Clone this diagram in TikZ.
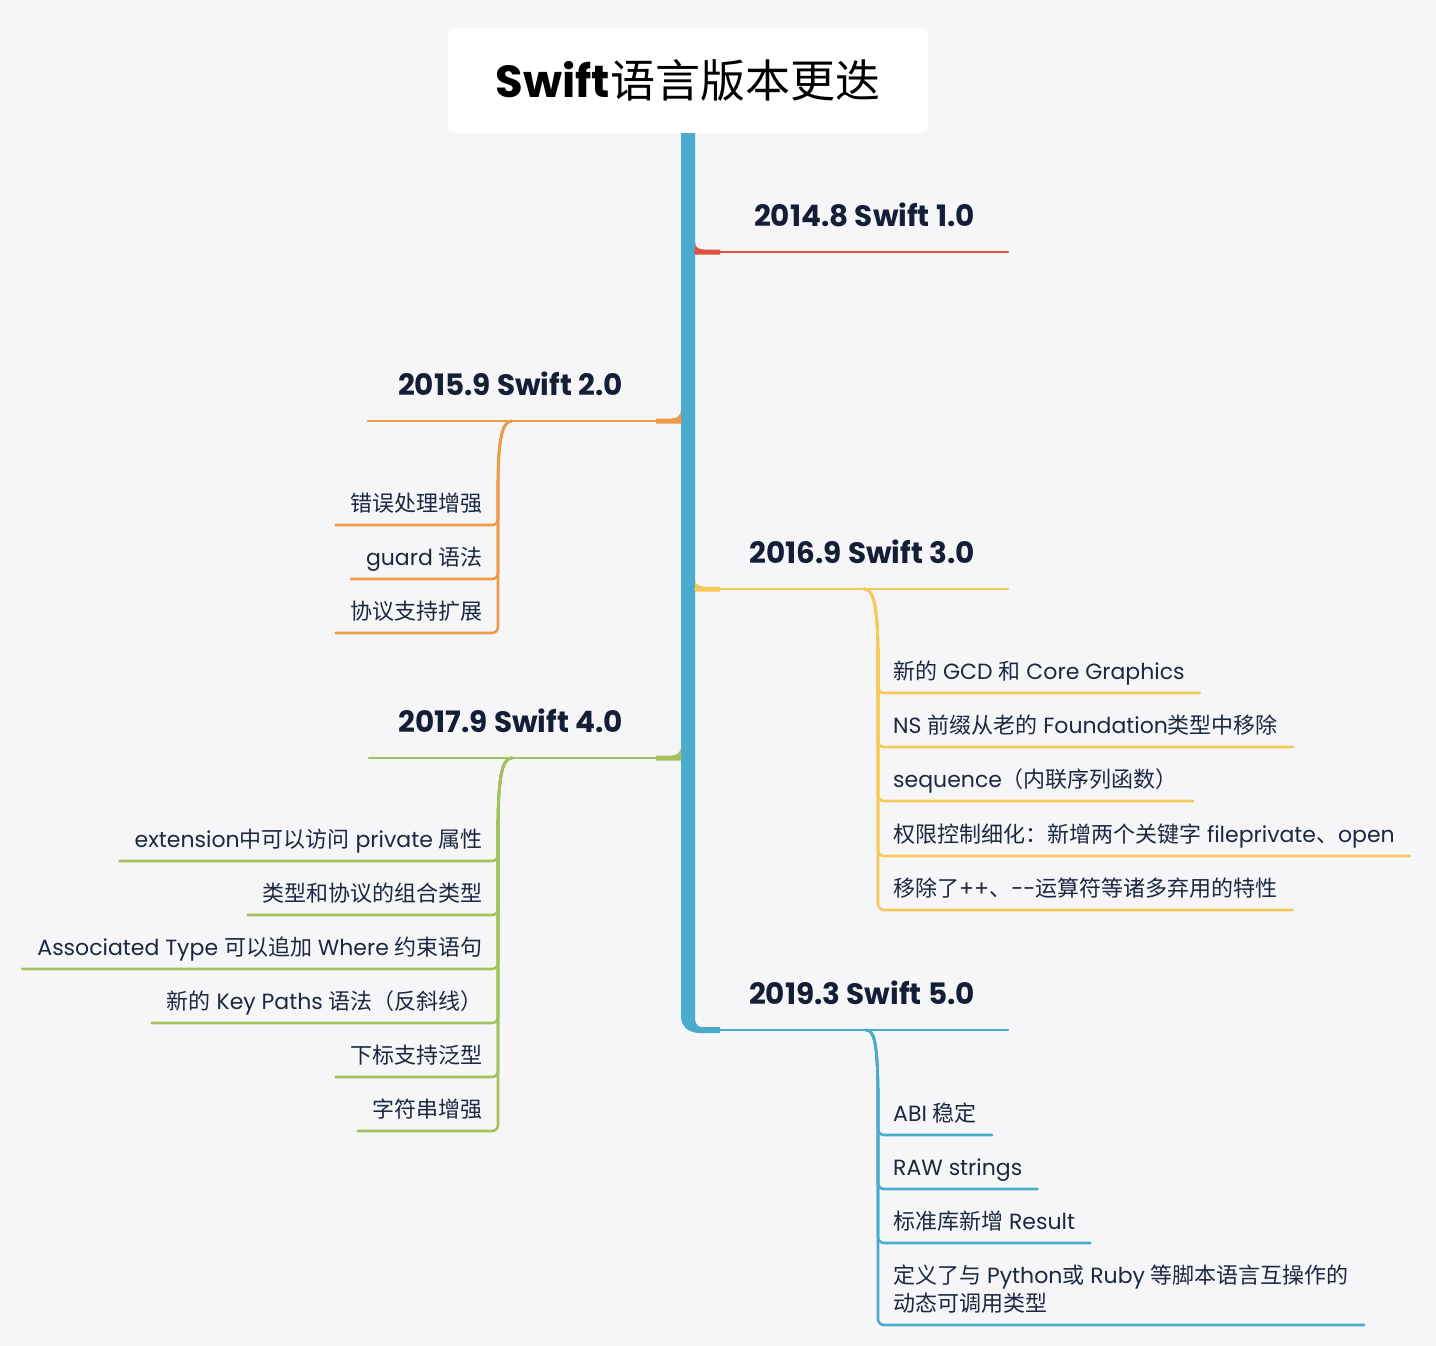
\documentclass[tikz,border=0pt]{standalone}
\usepackage{fontspec}
\setmainfont{Poppins}
\newfontfamily\zh{Noto Sans CJK SC}
\usepackage{xcolor}
\usepackage{tikz}
\definecolor{bg}{HTML}{F6F6F9}
\definecolor{ink}{HTML}{141E36}
\definecolor{ink2}{HTML}{1C2740}
\definecolor{trunk}{HTML}{4BAACF}
\definecolor{red}{HTML}{E15241}
\definecolor{orange}{HTML}{EE9A47}
\definecolor{yellow}{HTML}{F7C956}
\definecolor{green}{HTML}{A4C15C}
\tikzset{
  title/.style={fill=white, rounded corners=8pt, minimum width=480pt, minimum height=105pt,
    inner sep=0pt, text=black, font=\fontsize{45}{50}\selectfont\bfseries},
  ver/.style={text=ink, inner sep=0pt, font=\fontsize{29.5}{34}\selectfont\bfseries},
  kid/.style={text=ink2, inner xsep=15pt, inner ysep=13pt, text depth=0pt, align=left,
    font=\fontsize{22}{28}\selectfont},
  kidr/.style={kid, anchor=south west},
  kidl/.style={kid, anchor=south east},
  twig/.style={line width=2.6pt, line cap=round, line join=round, rounded corners=6pt}
}
\begin{document}
\begin{tikzpicture}[x=1pt,y=-1pt]
  \fill[bg] (0,0) rectangle (1436,1346);
  % root
  \node[title] (root) at (688,80.5) {Swift{\zh\mdseries 语言版本更迭}};
  \fill[trunk] (root.south) ++(-7,0) -- (681,1016) .. controls (681,1026) and (688,1033) .. (700,1033)
    -- (720,1033) -- (720,1027) -- (702,1027) .. controls (698,1027) and (695,1024) .. (695,1018)
    -- (695,133) -- cycle;
  \coordinate (e5) at (1008,1030);
  \draw[trunk, twig] (720,1030) -- (e5);
  % 2014.8
  \coordinate (j1) at (695,252);
  \coordinate (e1) at (1008,252);
  \node[ver, anchor=base east] (v1) at (975,226) {2014.8 Swift 1.0};
  \draw[red, twig] (j1) -- (e1);
  \fill[red] (695,242) .. controls (695,248) and (699,249.5) .. (705,249.5) -- (720,249.5)
    -- (720,254.5) -- (695,254.5) -- cycle;
  % 2015.9
  \coordinate (j2) at (681,421);
  \coordinate (e2) at (368,421);
  \node[ver, anchor=base east] (v2) at (623,395) {2015.9 Swift 2.0};
  \draw[orange, twig] (j2) -- (e2);
  \fill[orange] (681,409) .. controls (681,416) and (677,418.5) .. (671,418.5) -- (656,418.5)
    -- (656,423.5) -- (681,423.5) -- cycle;
  \coordinate (s2) at (512,421);
  \foreach \y/\t [count=\i] in {525/{{\zh 错误处理增强}}, 579/{guard {\zh 语法}}, 633/{{\zh 协议支持扩展}}}{
    \node[kidl] (o\i) at (498,\y) {\t};
    \draw[orange, twig] (s2) .. controls (504,421) and (499,432) .. (498,480) |- (o\i.south west);
  }
  % 2016.9
  \coordinate (j3) at (695,589);
  \coordinate (e3) at (1008,589);
  \node[ver, anchor=base east] (v3) at (975,563) {2016.9 Swift 3.0};
  \draw[yellow, twig] (j3) -- (e3);
  \fill[yellow] (695,579) .. controls (695,585) and (699,586.5) .. (705,586.5) -- (720,586.5)
    -- (720,591.5) -- (695,591.5) -- cycle;
  \coordinate (s3) at (864,589);
  \foreach \y/\t [count=\i] in {693/{{\zh 新的} GCD {\zh 和} Core Graphics},
      747/{NS {\zh 前缀从老的} Foundation{\zh 类型中移除}},
      801/{sequence{\zh （内联序列函数）}},
      856/{{\zh 权限控制细化：新增两个关键字} fileprivate{\zh 、}open},
      910/{{\zh 移除了}++{\zh 、}-{}-{\zh 运算符等诸多弃用的特性}}}{
    \node[kidr] (y\i) at (878,\y) {\t};
    \draw[yellow, twig] (s3) .. controls (872,589) and (877,600) .. (878,650) |- (y\i.south east);
  }
  % 2017.9
  \coordinate (j4) at (681,758);
  \coordinate (e4) at (369,758);
  \node[ver, anchor=base east] (v4) at (623,732) {2017.9 Swift 4.0};
  \draw[green, twig] (j4) -- (e4);
  \fill[green] (681,746) .. controls (681,753) and (677,755.5) .. (671,755.5) -- (656,755.5)
    -- (656,760.5) -- (681,760.5) -- cycle;
  \coordinate (s4) at (512,758);
  \foreach \y/\t [count=\i] in {861/{extension{\zh 中可以访问} private {\zh 属性}},
      915/{{\zh 类型和协议的组合类型}},
      969/{Associated Type {\zh 可以追加} Where {\zh 约束语句}},
      1023/{{\zh 新的} Key Paths {\zh 语法（反斜线）}},
      1077/{{\zh 下标支持泛型}},
      1131/{{\zh 字符串增强}}}{
    \node[kidl] (g\i) at (498,\y) {\t};
    \draw[green, twig] (s4) .. controls (504,758) and (499,770) .. (498,820) |- (g\i.south west);
  }
  % 2019.3
  \node[ver, anchor=base east] (v5) at (975,1004) {2019.3 Swift 5.0};
  \coordinate (s5) at (866,1030);
  \foreach \y/\t [count=\i] in {1135/{ABI {\zh 稳定}},
      1189/{RAW strings},
      1243/{{\zh 标准库新增} Result},
      1325/{{\zh 定义了与} Python{\zh 或} Ruby {\zh 等脚本语言互操作的}\\{\zh 动态可调用类型}}}{
    \node[kidr] (b\i) at (878,\y) {\t};
    \draw[trunk, twig] (s5) .. controls (874,1030) and (877,1042) .. (878,1090) |- (b\i.south east);
  }
\end{tikzpicture}
\end{document}
